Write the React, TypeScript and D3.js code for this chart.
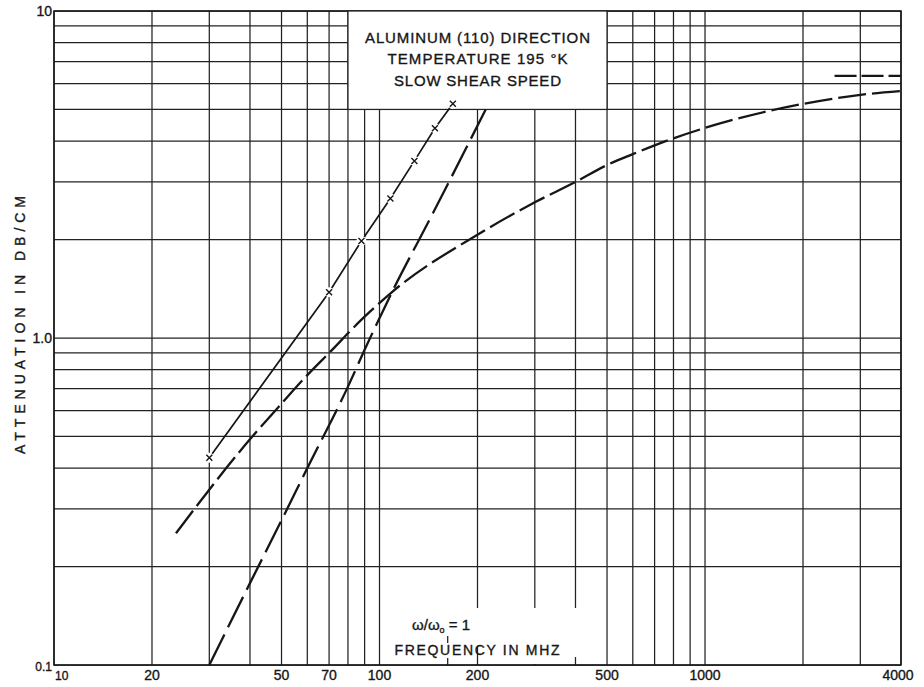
import React from "react";
import * as d3 from "d3";

const W = 924;
const H = 687;

// graph paper rulings
const gridFreq = [10, 20, 30, 40, 50, 60, 70, 80, 90, 100, 200, 300, 400, 500, 600, 700, 800, 900, 1000, 2000, 3000, 4000];
const gridAtten = [0.1, 0.2, 0.3, 0.4, 0.5, 0.6, 0.7, 0.8, 0.9, 1, 2, 3, 4, 5, 6, 7, 8, 9, 10];

const freqTicks = [10, 20, 50, 70, 100, 200, 500, 1000, 4000];
const freqTickLabels = ["10", "20", "50", "70", "100", "200", "500", "1000", "4000"];
const attenTicks = [10, 1, 0.1];
const attenTickLabels = ["10", "1.0", "0.1"];

// measured points (solid line with x marks)
const markedFreq = [30, 70, 88, 108, 128, 148, 168];
const markedAtten = [0.43, 1.38, 1.98, 2.67, 3.48, 4.38, 5.2];

// steep dashed line
const steepFreq = [30, 40, 50, 60, 80, 90, 108, 146, 212];
const steepAtten = [0.1, 0.178, 0.277, 0.4, 0.71, 0.92, 1.35, 2.41, 5.0];

// bending dashed curve
const bendFreq = [23.7, 40, 50, 60, 70, 89, 109, 200, 300, 400, 500, 600, 800, 1000, 2000, 3000, 4000];
const bendAtten = [0.253, 0.49, 0.63, 0.77, 0.9, 1.15, 1.38, 2.07, 2.6, 3.0, 3.38, 3.65, 4.08, 4.39, 5.2, 5.54, 5.69];

// high-frequency limit
const limitFreq = [2500, 4000];
const limitAtten = [6.33, 6.33];

const titleLines = ["ALUMINUM (110) DIRECTION", "TEMPERATURE 195 °K", "SLOW SHEAR SPEED"];
const titleWidths = [225, 180, 167];
const resonanceFreq = 162;

const ink = "#161616";
const font = "'Liberation Sans', Arial, sans-serif";

const x = d3.scaleLog().domain([10, 4000]).range([54, 901]);
const y = d3.scaleLog().domain([0.1, 10]).range([665, 11]);

const smooth = d3
  .line<[number, number]>()
  .x((d) => x(d[0]))
  .y((d) => y(d[1]))
  .curve(d3.curveMonotoneX);

const straight = d3
  .line<[number, number]>()
  .x((d) => x(d[0]))
  .y((d) => y(d[1]));

const zip = (a: number[], b: number[]) => a.map((v, i) => [v, b[i]] as [number, number]);

export default function App() {
  const left = x.range()[0];
  const right = x.range()[1];
  const top = y.range()[1];
  const bottom = y.range()[0];
  const boxL = x(80);
  const boxR = x(500);
  const boxB = y(5);
  const boxC = (boxL + boxR) / 2;
  const pen = { stroke: ink, strokeWidth: 0.35 };

  return (
    <svg width={W} height={H} style={{ position: "absolute", left: 0, top: 0, background: "#fff" }}>
      <rect width={W} height={H} fill="#fff" />

      {/* grid */}
      <g stroke="#222" strokeWidth={1.25}>
        {gridFreq.map((f) => (
          <line key={"v" + f} x1={x(f)} x2={x(f)} y1={top} y2={bottom} />
        ))}
        {gridAtten.map((a) => (
          <line key={"h" + a} x1={left} x2={right} y1={y(a)} y2={y(a)} />
        ))}
      </g>

      {/* blank space under the frequency label */}
      <rect x={388} y={608} width={204} height={56} fill="#fff" />
      <g stroke="#222" strokeWidth={1.25}>
        <line x1={x(200)} x2={x(200)} y1={647} y2={bottom} />
        <line x1={x(400)} x2={x(400)} y1={657} y2={bottom} />
      </g>

      {/* frame */}
      <rect x={left} y={top} width={right - left} height={bottom - top} fill="none" stroke={ink} strokeWidth={1.5} />

      {/* title box */}
      <rect x={boxL} y={top} width={boxR - boxL} height={boxB - top} fill="#fff" stroke="#222" strokeWidth={1.25} />
      <g fontFamily={font} fontSize={15} fill={ink} textAnchor="middle" {...pen}>
        {titleLines.map((t, i) => (
          <text key={t} x={boxC} y={42.5 + i * 21.5} textLength={titleWidths[i]} lengthAdjust="spacing">
            {t}
          </text>
        ))}
      </g>

      {/* curves */}
      <g fill="none" stroke={ink} strokeLinecap="butt">
        <path d={smooth(zip(bendFreq, bendAtten)) || ""} strokeWidth={2.3} strokeDasharray="28 6" />
        <path d={smooth(zip(steepFreq, steepAtten)) || ""} strokeWidth={2.3} strokeDasharray="34 8" />
        <path d={straight(zip(limitFreq, limitAtten)) || ""} strokeWidth={2.3} strokeDasharray="22 5" />
        <path d={straight(zip(markedFreq, markedAtten)) || ""} strokeWidth={1.7} />
      </g>

      {/* x markers */}
      {markedFreq.map((f, i) => {
        const cx = x(f);
        const cy = y(markedAtten[i]);
        const s = 3;
        return (
          <g key={"m" + f}>
            <circle cx={cx} cy={cy} r={5} fill="#fff" />
            <path
              d={`M${cx - s},${cy - s}L${cx + s},${cy + s}M${cx + s},${cy - s}L${cx - s},${cy + s}`}
              stroke={ink}
              strokeWidth={1.4}
            />
          </g>
        );
      })}

      {/* y tick labels */}
      <g fontFamily={font} fill={ink} textAnchor="end" {...pen}>
        {attenTicks.map((a, i) => (
          <text key={a} x={left - 2} y={y(a) + (a === 0.1 ? 6 : 5)} fontSize={a === 0.1 ? 12 : 14}>
            {attenTickLabels[i]}
          </text>
        ))}
      </g>

      {/* x tick labels */}
      <g fontFamily={font} fill={ink} {...pen}>
        {freqTicks.map((f, i) => (
          <text
            key={f}
            x={f === 10 ? x(f) + 1 : f === 4000 ? x(f) - 3 : x(f)}
            y={680}
            textAnchor={f === 10 ? "start" : "middle"}
            fontSize={f === 10 ? 12 : 14}
          >
            {freqTickLabels[i]}
          </text>
        ))}
      </g>

      {/* axis titles */}
      <text
        transform={`translate(25,325) rotate(-90)`}
        textAnchor="middle"
        fontFamily={font}
        fontSize={14}
        fill={ink}
        {...pen}
        textLength={258}
        lengthAdjust="spacing"
      >
        ATTENUATION IN DB/CM
      </text>
      <text
        x={477}
        y={655}
        textAnchor="middle"
        fontFamily={font}
        fontSize={14}
        fill={ink}
        {...pen}
        textLength={165}
        lengthAdjust="spacing"
      >
        FREQUENCY IN MHZ
      </text>

      {/* omega / omega0 = 1 marker */}
      <text x={412} y={630} fontFamily={font} fontSize={15} fill={ink} {...pen}>
        ω/ω<tspan fontSize={9} dy={3}>o</tspan>
        <tspan dy={-3}> = 1</tspan>
      </text>
      <g stroke={ink} strokeWidth={1.2}>
        <line x1={x(resonanceFreq)} x2={x(resonanceFreq)} y1={636} y2={643} />
        <line x1={x(resonanceFreq)} x2={x(resonanceFreq)} y1={658} y2={bottom} />
      </g>
    </svg>
  );
}
